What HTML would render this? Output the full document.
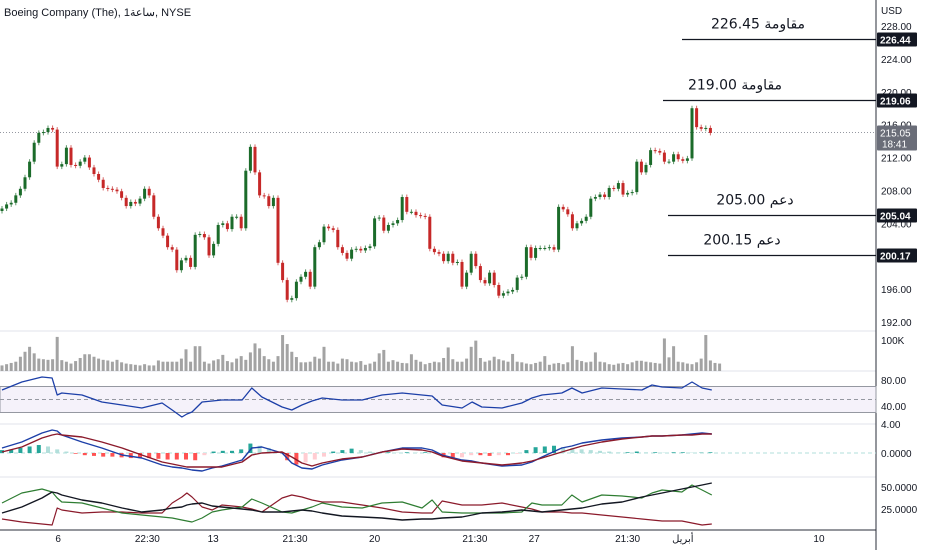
<!DOCTYPE html>
<html><head><meta charset="utf-8"><style>
html,body{margin:0;padding:0;background:#fff;}
svg{display:block;font-family:"Liberation Sans","Noto Sans CJK SC",sans-serif;}
</style></head><body>
<svg id="chart" width="932" height="550" viewBox="0 0 932 550" xmlns="http://www.w3.org/2000/svg">
<rect x="0" y="0" width="932" height="550" fill="#ffffff"/>
<text x="4" y="16" font-size="11" fill="#131722">Boeing Company (The), 1ساعة, NYSE</text>
<text x="881" y="14" font-size="10" fill="#131722">USD</text>
<g id="grid"></g>
<g id="vol"></g>
<g id="rsi"></g>
<g id="macd"></g>
<g id="dmi"></g>
<g id="candles"></g>
<g id="levels"></g>
<g id="axis"></g>
<g id="taxis"></g>
</svg>
<script>
const closes=[205.8,206.3,206.5,207.4,208.2,209.6,211.5,213.8,215,215.1,215.6,215.4,
210.9,211.2,213.2,211.1,211.0,211.5,212,210.8,210,209.3,
208.3,208.2,208.1,207.9,207.1,206.1,206.6,206.4,207,208.2,207.4,
204.8,203.4,202.5,201.1,200.8,198.3,199.5,199.8,198.7,
202.6,202.7,202.3,200.1,201.5,203.8,204,203.3,204.8,204.8,203.4,
210.4,213.3,210.2,207.4,207.3,206.1,207.1,
199.2,197.1,194.7,194.9,196.9,197.5,198.1,196.3,201.1,
201.7,203.6,203.4,203.2,201.1,200.4,199.7,200.8,
200.9,200.7,201,201.2,204.6,204.7,203.1,203.8,204,204.4,
207.2,205.4,205.4,205,204.9,204.8,
200.9,200.5,200.3,199.4,200.3,199.2,199.3,
196.3,198,200.3,198.8,197.1,196.7,198,196.5,
195.2,195.5,195.7,195.9,197.4,197.5,
201.1,199.8,201,201,201,201.1,200.8,
206,205.7,205.1,203.4,204,204.3,204.8,
207,207.2,207.5,207.2,208.3,208.2,208.9,207.5,207.7,207.8,
211.5,210.2,211.1,212.9,212.8,212.6,211.5,211.5,212.4,
211.8,211.6,211.9,218,215.7,215.5,215.6,215];
const firstOpen=205.5;
const volumes=[18,22,26,30,46,62,78,57,40,38,36,38,110,35,30,24,32,42,54,54,46,40,36,34,30,36,28,24,22,20,18,22,18,18,34,30,30,30,30,40,70,30,80,80,30,24,34,38,52,32,28,40,48,36,60,89,73,48,38,30,48,116,87,62,45,28,28,30,46,40,78,30,30,24,40,38,30,28,32,20,24,30,57,68,30,35,30,26,25,54,36,30,22,26,30,28,42,76,38,30,30,40,78,98,42,30,34,46,38,34,30,55,30,28,24,22,26,30,48,20,24,26,22,28,80,36,32,28,30,60,30,28,22,20,24,26,22,28,33,33,30,28,26,24,105,44,80,30,28,24,22,28,40,116,34,26,24];
const indT=[0,4.3,8.7,10.9,12,13,17.4,21.7,26.1,30.4,34.8,37,39.1,40.2,41.3,43.5,45.7,47.8,52.2,54.3,56.5,60.9,63,65.2,67.4,69.6,73.9,78.3,82.6,87,91.3,93.5,95.7,100,102.2,104.3,108.7,113,115.2,117.4,121.7,123.9,126.1,130.4,134.8,139.1,141.3,143.5,147.8,150,152.2,154.3];
const rsiVals=[64.6,76.9,84.6,83.1,56.9,60,56.9,46.2,41.5,36.9,44.6,33.9,23.1,27.7,30.8,46.2,47.7,49.2,49.2,67.7,53.9,38.5,33.9,41.5,47.7,52.3,49.2,49.2,56.9,60,56.9,55.4,41.5,36.9,46.2,38.5,36.9,44.6,52.3,56.9,60,67.7,60,67.7,66.2,64.6,72.3,69.2,67.7,76.9,67.7,64.6];
const macdVals=[0.69,1.52,2.76,3.17,3.03,2.48,1.52,0.69,-0.28,-0.69,-1.66,-1.93,-2.07,-2.21,-2.34,-2.48,-2.07,-1.79,-0.97,0.69,0.83,0,-1.38,-2.07,-2.21,-1.66,-0.97,-0.55,0.14,0.69,0.69,0.41,-0.28,-0.97,-1.1,-1.38,-1.79,-1.66,-1.24,-0.55,0.69,0.97,1.38,1.79,2.07,2.21,2.34,2.34,2.48,2.62,2.76,2.62];
const signalVals=[0.14,0.83,2.07,2.48,2.62,2.48,2.21,1.52,0.69,-0.28,-1.24,-1.52,-1.79,-1.93,-1.93,-1.93,-1.93,-1.93,-1.24,-0.28,0,0.14,-0.55,-1.38,-1.79,-1.38,-0.83,-0.55,0.14,0.55,0.41,0.14,-0.41,-1.1,-1.24,-1.38,-1.66,-1.38,-1.1,-0.69,0.14,0.55,0.97,1.52,1.93,2.21,2.34,2.34,2.48,2.48,2.62,2.62];
const histVals=[0.4,0.5,0.7,0.9,1.1,0.9,0.5,0.2,-0.1,-0.3,-0.4,-0.5,-0.5,-0.6,-0.7,-0.7,-0.7,-0.8,-0.9,-0.9,-0.9,-1.0,-0.3,0.2,0.3,0.3,0.5,1.3,1.0,0.7,0.1,-1.0,-1.6,-1.3,-0.9,-0.5,0.2,0.4,0.6,0.4,0.2,0.1,0.1,0.05,0.1,0.05,0.1,0.1,-0.6,-0.8,-0.6,-0.3,-0.3,-0.4,-0.3,-0.3,-0.1,0.4,0.8,0.9,1.0,0.8,0.7,0.5,0.4,0.3,0.2,0.1,0.1,0.2,0.1,0.1,0.05,0.1,0.1,0.05,0.05,0.1];
const diPlus=[31.8,43.2,47.7,44.3,37.5,33,31.8,26.1,20.5,18.2,15.9,14.8,12.5,11.4,10.2,14.8,21.6,23.9,27.3,36.4,31.8,21.6,20.5,23.9,27.3,31.8,27.3,26.1,31.8,33,26.1,35.2,21.6,20.5,20.5,20.5,20.5,21.6,31.8,29.5,29.5,40.9,33,40.9,39.8,37.5,43.2,46.6,44.3,52.3,46.6,40.9];
const diMinus=[13.6,10.2,8,6.8,26.1,23.9,20.5,21.6,21.6,20.5,20.5,31.8,38.6,43.2,38.6,27.3,23.9,29.5,27.3,25,21.6,37.5,40.9,38.6,35.2,33,33,29.5,26.1,21.6,20.5,20.5,34.1,29.5,29.5,29.5,31.8,27.3,25,21.6,21.6,20.5,20.5,18.2,15.9,13.6,12.5,11.4,11.4,9.1,6.8,8];
const adxVals=[20.5,27.3,37.5,44.3,43.2,40.9,35.2,31.8,26.1,21.6,23.9,26.1,27.3,29.5,30.7,31.8,28.4,27.3,25,23.9,21.6,21.6,22.7,23.9,22.7,20.5,17,15.9,14.8,12.5,13.6,13.6,14.8,15.9,18.2,20.5,21.6,23.9,22.7,21.6,23.9,25,26.1,30.7,33,38.6,40.9,43.2,47.7,50,52.3,54.5];
const priceTicks=[228,224,220,216,212,208,204,196,192];
const timeLabels=["6","22:30","13","21:30","20","21:30","27","21:30","أبريل","10"];
const timeLabelBars=[12.2,31.6,45.9,63.7,81,102.8,115.7,136,148,177.6];
const levelPrices=[226.44,219.06,205.04,200.17];
const levelTexts=["226.45 مقاومة","219.00 مقاومة","205.00 دعم","200.15 دعم"];
const lastPrice=215.05;

const NS="http://www.w3.org/2000/svg";
function mk(tag,attrs,parent){const e=document.createElementNS(NS,tag);for(const k in attrs)e.setAttribute(k,attrs[k]);parent.appendChild(e);return e;}
const STEP=4.6;
const xb=i=>2+STEP*i;
const yP=p=>26+(228-p)*8.222;
const yVol=v=>371-v*0.31;
const yRsi=v=>380+(80-v)*0.65;
const yMacd=v=>453-v*7.25;
const yDmi=v=>487+(50-v)*0.88;
const PR=876;

const grid=document.getElementById('grid');
[331,371,424,477].forEach(y=>{const l=mk('line',{x1:0,x2:PR,y1:y,y2:y,stroke:'#e0e3eb','stroke-width':1},grid);

});
let bl=mk('line',{x1:0,x2:PR,y1:530,y2:530,stroke:'#2a2e39','stroke-width':1},grid);


let vl=mk('line',{x1:PR,x2:PR,y1:0,y2:550,stroke:'#2a2e39','stroke-width':1},grid);


let dl=mk('line',{x1:0,x2:PR,y1:yP(lastPrice),y2:yP(lastPrice),stroke:'#9598a1','stroke-width':1,'stroke-dasharray':'1,2'},grid);



// candles
const cg=document.getElementById('candles');
closes.forEach((c,i)=>{
 const o=i===0?firstOpen:closes[i-1];
 const up=c>=o;const col=up?'#1b6b2a':'#c62828';
 const x=xb(i);const top=yP(Math.max(o,c)),bot=yP(Math.min(o,c));
 const w=mk('line',{x1:x,x2:x,y1:top-2.5,y2:bot+2.5,stroke:col,'stroke-width':1,opacity:0.7},cg);
 
 
 const b=mk('rect',{x:x-1.5,y:top,width:3,height:Math.max(1,bot-top),fill:col},cg);
 
 
});

// volume
const vg=document.getElementById('vol');
volumes.forEach((v,i)=>{const r=mk('rect',{x:xb(i)-1.5,y:yVol(v),width:3,height:371-yVol(v),fill:'#a3a3a3'},vg);

});
let vt=mk('text',{x:881,y:344,'font-size':10,fill:'#131722'},vg);vt.textContent='100K';



function poly(g,vals,yf,col,w,name){const pts=vals.map((v,i)=>xb(indT[i]).toFixed(1)+','+yf(v).toFixed(1)).join(' ');
 const p=mk('polyline',{points:pts,fill:'none',stroke:col,'stroke-width':w,'stroke-linejoin':'round'},g);
 
 }

// RSI
const rg=document.getElementById('rsi');
let band=mk('rect',{x:0,y:yRsi(70),width:PR,height:yRsi(30)-yRsi(70),fill:'#7e57c2','fill-opacity':0.08,stroke:'#9598a1','stroke-width':1},rg);


let mid=mk('line',{x1:0,x2:PR,y1:yRsi(50),y2:yRsi(50),stroke:'#9598a1','stroke-dasharray':'4,3'},rg);


poly(rg,rsiVals,yRsi,'#1c3fa8',1.3,'rsi-line');
[[80,'80.00'],[40,'40.00']].forEach(([v,t])=>{const e=mk('text',{x:881,y:yRsi(v)+4,'font-size':10,fill:'#131722'},rg);e.textContent=t;

});

// MACD
const mg=document.getElementById('macd');
let zl=mk('line',{x1:0,x2:PR,y1:yMacd(0),y2:yMacd(0),stroke:'#b2dfdb','stroke-dasharray':'4,3'},mg);


histVals.forEach((h,k)=>{const prev=k?histVals[k-1]:0;let col;
 if(h>=0)col=h>=prev?'#26a69a':'#b2dfdb';else col=h<=prev?'#ff5252':'#ffcdd2';
 const y0=yMacd(0),y1=yMacd(h);
 const r=mk('rect',{x:xb(k*2)-2,y:Math.min(y0,y1),width:4,height:Math.abs(y1-y0),fill:col},mg);
 
 });
poly(mg,macdVals,yMacd,'#1c3fa8',1.4,'macd-line');
poly(mg,signalVals,yMacd,'#8b1a2b',1.4,'signal-line');
[[4,'4.00',428],[0,'0.0000',457]].forEach(([v,t,y])=>{const e=mk('text',{x:881,y:y,'font-size':10,fill:'#131722'},mg);e.textContent=t;

});

// DMI
const dg=document.getElementById('dmi');
poly(dg,diMinus,yDmi,'#8b1a2b',1.2,'di-minus-line');
poly(dg,diPlus,yDmi,'#2e7d32',1.2,'di-plus-line');
poly(dg,adxVals,yDmi,'#131722',1.4,'adx-line');
[[50,'50.0000'],[25,'25.0000']].forEach(([v,t])=>{const e=mk('text',{x:881,y:yDmi(v)+4,'font-size':10,fill:'#131722'},dg);e.textContent=t;

});

// price axis
const ag=document.getElementById('axis');
priceTicks.forEach(p=>{const e=mk('text',{x:881,y:yP(p)+4,'font-size':10,fill:'#131722'},ag);e.textContent=p.toFixed(2);

});

// levels
const lg=document.getElementById('levels');
const lineStart=[682,663,668,668];
const textX=[758,735,755,742];
levelPrices.forEach((p,k)=>{const y=Math.round(yP(p))+0.5;
 const l=mk('line',{x1:lineStart[k],x2:PR,y1:y,y2:y,stroke:'#131722','stroke-width':1.3},lg);
 
 
 const t=mk('text',{x:textX[k],y:y-11,'font-size':14,fill:'#131722','text-anchor':'middle','font-family':'"DejaVu Sans","Liberation Sans",sans-serif'},lg);
 t.textContent=levelTexts[k];
 
 
 const b=mk('rect',{x:877,y:y-7,width:40,height:14,fill:'#131722',rx:1},ag);
 
 
 const bt=mk('text',{x:880,y:y+4,'font-size':10,fill:'#ffffff','font-weight':'bold'},ag);bt.textContent=p.toFixed(2);
 
 
});
let lb=mk('rect',{x:877,y:yP(lastPrice)-7,width:40,height:25,fill:'#6a6d78',rx:1},ag);


let lt=mk('text',{x:880,y:yP(lastPrice)+4,'font-size':10,fill:'#fff'},ag);lt.textContent=lastPrice.toFixed(2);


let ct=mk('text',{x:882,y:yP(lastPrice)+15,'font-size':10,fill:'#fff'},ag);ct.textContent='18:41';



// time axis
const tg=document.getElementById('taxis');
timeLabels.forEach((t,k)=>{const e=mk('text',{x:xb(timeLabelBars[k]),y:542,'font-size':10,fill:'#131722','text-anchor':'middle'},tg);e.textContent=t;

});
</script>
</body></html>
